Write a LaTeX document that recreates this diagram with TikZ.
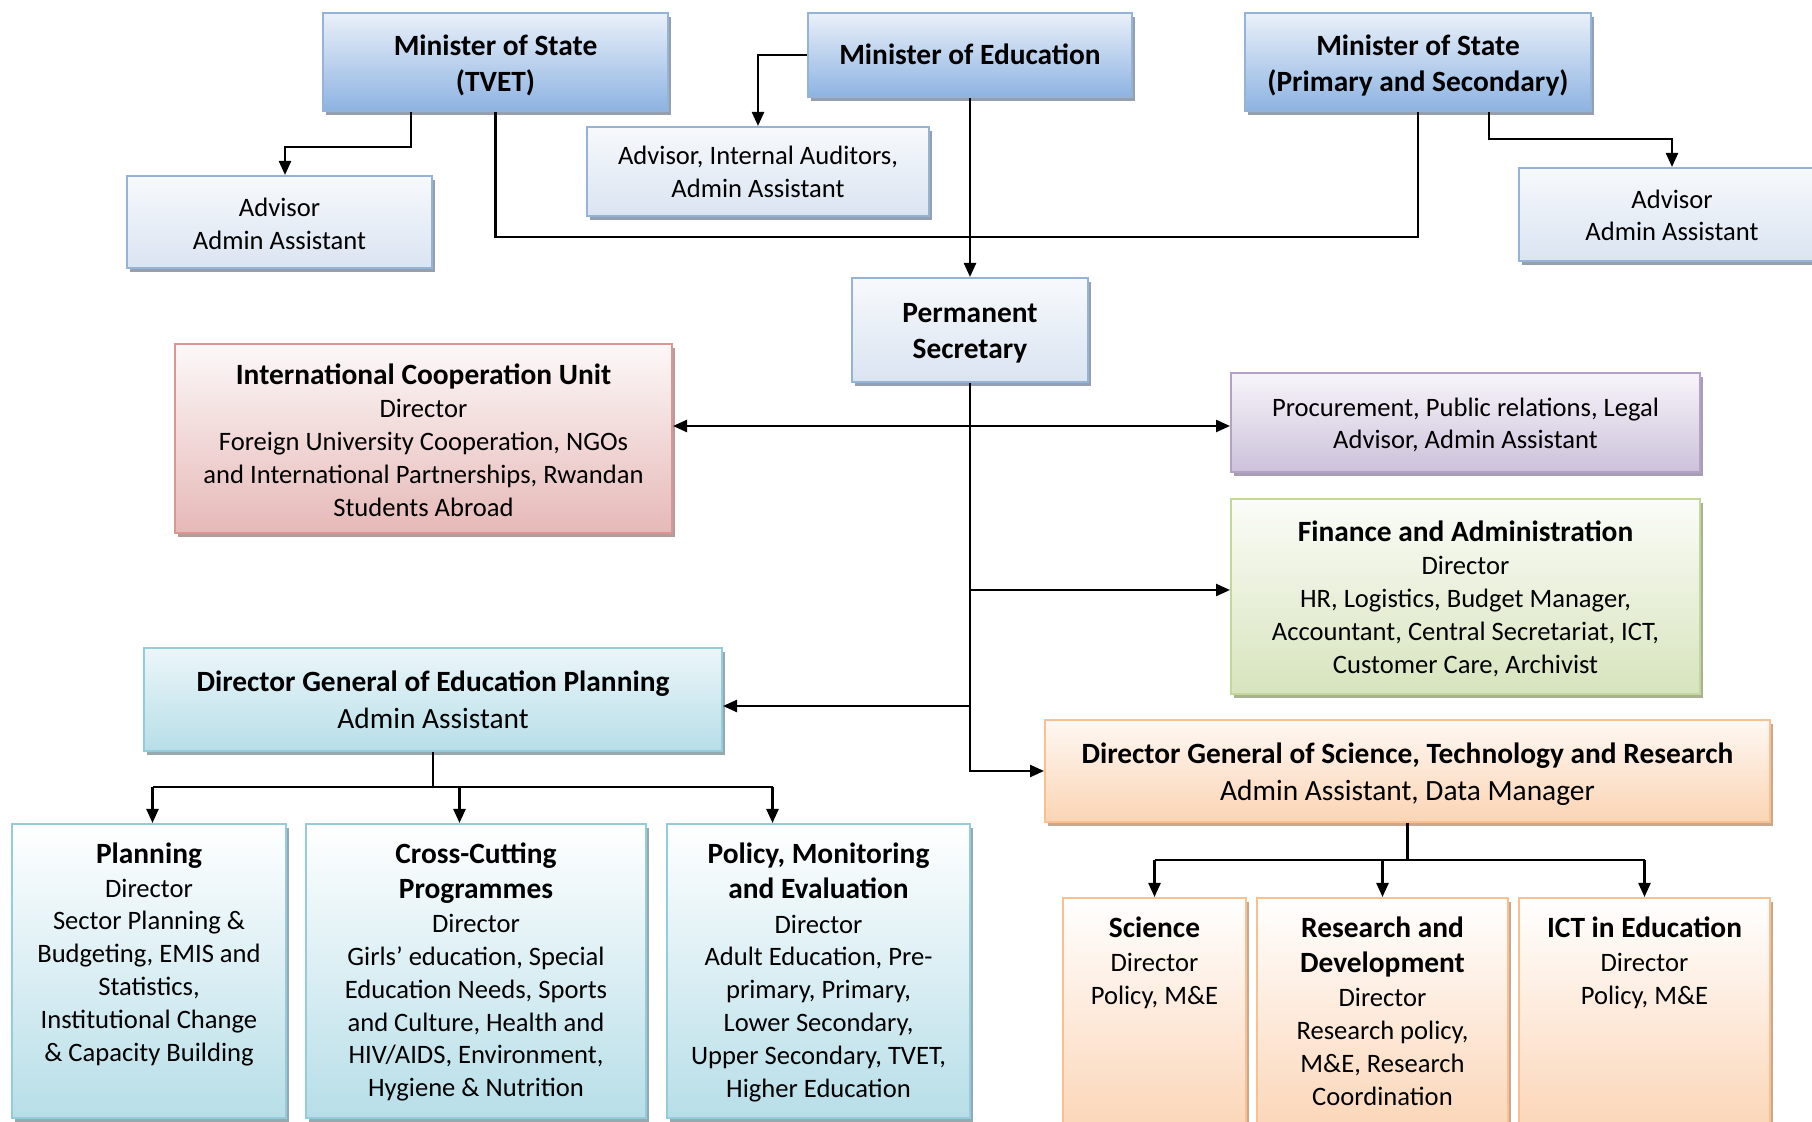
\documentclass[tikz,border=0pt]{standalone}
\usepackage{fontspec}
\setmainfont{Carlito}
\usetikzlibrary{arrows.meta,shadows}
\definecolor{blueTop}{HTML}{EAF0F9}
\definecolor{blueBot}{HTML}{8DB3E2}
\definecolor{blueLn}{HTML}{95B3D7}
\definecolor{blueSh}{HTML}{949FAF}
\definecolor{lbTop}{HTML}{F7F9FC}
\definecolor{lbBot}{HTML}{DAE4F1}
\definecolor{redTop}{HTML}{FCF8F8}
\definecolor{redBot}{HTML}{E6B9B8}
\definecolor{redLn}{HTML}{D99694}
\definecolor{redSh}{HTML}{B59C9C}
\definecolor{purTop}{HTML}{F7F5FA}
\definecolor{purBot}{HTML}{CCC1DA}
\definecolor{purLn}{HTML}{B3A2C7}
\definecolor{purSh}{HTML}{A89EB3}
\definecolor{grnTop}{HTML}{FBFCF8}
\definecolor{grnBot}{HTML}{D7E4BD}
\definecolor{grnLn}{HTML}{C3D69B}
\definecolor{grnSh}{HTML}{A8B293}
\definecolor{tlTop}{HTML}{ECF6F9}
\definecolor{tlBot}{HTML}{B7DEE8}
\definecolor{tlLn}{HTML}{93CDDD}
\definecolor{tlSh}{HTML}{95A9AF}
\definecolor{orTop}{HTML}{FEF8F3}
\definecolor{orBot}{HTML}{FBD4B4}
\definecolor{orLn}{HTML}{FAC090}
\definecolor{orSh}{HTML}{C9A88F}
\newcommand\ttl[1]{{\fontsize{14.7}{16.4}\selectfont\bfseries #1}}
\newcommand\dgt[1]{{\fontsize{14.7}{18.5}\selectfont\bfseries #1}}
% box with text centred: name, box style, x1, y1, x2, y2, downward text shift (pt), text style, text
\newcommand\bx[9]{%
  \node[#2, minimum width={(#5-#3)*0.5pt}, minimum height={(#6-#4)*0.5pt}] (#1) at ({(#3+#5)/2},{(#4+#6)/2}) {};
  \node[#8] (#1t) at ([yshift=-#7pt]#1.center) {#9};}
% box without text
\newcommand\bxe[6]{%
  \node[#2, minimum width={(#5-#3)*0.5pt}, minimum height={(#6-#4)*0.5pt}] (#1) at ({(#3+#5)/2},{(#4+#6)/2}) {};}
\tikzset{
  box/.style={draw, line width=1pt, inner sep=0pt},
  shd/.style={drop shadow={shadow xshift=1.3pt, shadow yshift=-2.2pt, fill=#1, opacity=1}},
  minbox/.style={box, draw=blueLn, top color=blueTop, bottom color=blueBot, shd=blueSh},
  advbox/.style={box, draw=blueLn, top color=lbTop, bottom color=lbBot, shd=blueSh},
  redbox/.style={box, draw=redLn, top color=redTop, bottom color=redBot, shd=redSh},
  purbox/.style={box, draw=purLn, top color=purTop, bottom color=purBot, shd=purSh},
  grnbox/.style={box, draw=grnLn, top color=grnTop, bottom color=grnBot, shd=grnSh},
  tldg/.style={box, draw=tlLn, top color=tlTop, bottom color=tlBot, shd=tlSh},
  tlch/.style={box, draw=tlLn, top color=white, bottom color=tlBot, shd=tlSh},
  ordg/.style={box, draw=orLn, top color=orTop, bottom color=orBot, shd=orSh},
  orch/.style={box, draw=orLn, top color=white, bottom color=orBot, shd=orSh},
  tx/.style={align=center, inner sep=0pt, font=\fontsize{13.3}{16.4}\selectfont},
  txm/.style={align=center, inner sep=0pt, font=\fontsize{14.7}{17.9}\selectfont\bfseries},
  txdg/.style={align=center, inner sep=0pt, font=\fontsize{14.7}{18.5}\selectfont},
  intext/.style={tx, anchor=north},
  ln/.style={line width=1.2pt},
  arr/.style={line width=1.2pt, -{Triangle[length=7pt,width=6pt]}},
}
\begin{document}
\begin{tikzpicture}[x=0.5pt,y=-0.5pt]
\clip (0,0) rectangle (1812,1122);
\fill[white] (0,0) rectangle (1812,1122);
% top level
\bx{tvet}{minbox}{323}{13}{668}{111}{1.6}{txm}{Minister of State\\(TVET)}
\bx{moe}{minbox}{808}{13}{1132}{97}{-0.3}{txm}{Minister of Education}
\bx{mps}{minbox}{1245}{13}{1591}{111}{1.6}{txm}{Minister of State\\(Primary and Secondary)}
\bx{adv1}{advbox}{127}{176}{432}{268}{0.9}{tx}{Advisor\\Admin Assistant}
\bx{advia}{advbox}{587}{127}{929}{216}{0.3}{tx}{Advisor, Internal Auditors,\\Admin Assistant}
\bx{adv3}{advbox}{1519}{168}{1825}{261}{0.4}{tx}{Advisor\\Admin Assistant}
\bx{ps}{advbox}{852}{278}{1088}{382}{1.6}{txm}{Permanent\\Secretary}
% units
\bx{icu}{redbox}{175}{344}{672}{533}{0.7}{tx}{\ttl{International Cooperation Unit}\\[0.5pt]Director\\Foreign University Cooperation, NGOs\\and International Partnerships, Rwandan\\Students Abroad}
\bx{proc}{purbox}{1231}{373}{1700}{472}{1.2}{tx}{Procurement, Public relations, Legal\\Advisor, Admin Assistant}
\bx{fin}{grnbox}{1231}{499}{1700}{694}{1.0}{tx}{\ttl{Finance and Administration}\\[0.5pt]Director\\HR, Logistics, Budget Manager,\\Accountant, Central Secretariat, ICT,\\Customer Care, Archivist}
\bx{dgp}{tldg}{144}{648}{722}{751}{0}{txdg}{\dgt{Director General of Education Planning}\\Admin Assistant}
\bx{dgs}{ordg}{1045}{720}{1770}{822}{1.6}{txdg}{\dgt{Director General of Science, Technology and Research}\\Admin Assistant, Data Manager}
% children boxes
\bxe{pl}{tlch}{12}{824}{286}{1118}
\bxe{cc}{tlch}{306}{824}{646}{1118}
\bxe{pme}{tlch}{667}{824}{970}{1118}
\bxe{sci}{orch}{1063}{898}{1246}{1140}
\bxe{rd}{orch}{1257}{898}{1508}{1140}
\bxe{ict}{orch}{1519}{898}{1770}{1140}
\node[intext] (plt) at ([yshift=-9pt]pl.north) {\rule{0pt}{11pt}\ttl{Planning}\\[0.4pt]Director\\Sector Planning \&\\Budgeting, EMIS and\\Statistics,\\Institutional Change\\\& Capacity Building};
\node[intext] (cct) at ([yshift=-9pt]cc.north) {\rule{0pt}{11pt}\ttl{Cross-Cutting}\\[0.9pt]\ttl{Programmes}\\[0.9pt]Director\\Girls’ education, Special\\Education Needs, Sports\\and Culture, Health and\\HIV/AIDS, Environment,\\Hygiene \& Nutrition};
\node[intext] (pmet) at ([yshift=-9pt]pme.north) {\rule{0pt}{11pt}\ttl{Policy, Monitoring}\\[1pt]\ttl{and Evaluation}\\[1pt]Director\\Adult Education, Pre-\\primary, Primary,\\Lower Secondary,\\Upper Secondary, TVET,\\Higher Education};
\node[intext] (scit) at ([yshift=-9pt]sci.north) {\rule{0pt}{11pt}\ttl{Science}\\[0.7pt]Director\\Policy, M\&E};
\node[intext] (rdt) at ([yshift=-9pt]rd.north) {\rule{0pt}{11pt}\ttl{Research and}\\[1pt]\ttl{Development}\\[0.9pt]Director\\Research policy,\\M\&E, Research\\Coordination};
\node[intext] (ictt) at ([yshift=-9pt]ict.north) {\rule{0pt}{11pt}\ttl{ICT in Education}\\[0.7pt]Director\\Policy, M\&E};
% connectors top
\draw[arr] (moe.west) -| (advia.north);
\draw[arr] (moe.south) -- (ps.north);
\coordinate (j) at (969.5,237);
\draw[ln] (tvet.south) |- (j);
\draw[ln] (mps.south) |- (j);
\coordinate (tA1) at (411,147);
\coordinate (tA2) at (285,147);
\draw[arr] (tvet.south -| tA1) -- (tA1) -- (tA2) -- (adv1.north -| tA2);
\coordinate (pA) at (1489,139);
\draw[arr] (mps.south -| pA) -- (pA) -| (adv3.north);
% trunk from permanent secretary
\draw[arr] (ps.south) |- (dgs.west);
\coordinate (b1) at (969.5,426);
\coordinate (b2) at (969.5,590);
\coordinate (b3) at (969.5,706);
\draw[arr] (b1) -- (b1 -| icu.east);
\draw[arr] (b1) -- (b1 -| proc.west);
\draw[arr] (b2) -- (b2 -| fin.west);
\draw[arr] (b3) -- (b3 -| dgp.east);
% planning branch
\coordinate (c0) at (433,787);
\coordinate (c1) at (152.5,787);
\coordinate (c2) at (459.5,787);
\coordinate (c3) at (772.5,787);
\draw[ln] (dgp.south) -- (c0);
\draw[ln] (c1) -- (c3);
\draw[arr] (c1) -- (c1 |- pl.north);
\draw[arr] (c2) -- (c2 |- cc.north);
\draw[arr] (c3) -- (c3 |- pme.north);
% science branch
\coordinate (d0) at (1407.5,860);
\draw[ln] (dgs.south) -- (d0);
\draw[ln] (d0 -| sci.north) -- (d0 -| ict.north);
\draw[arr] (d0 -| sci.north) -- (sci.north);
\draw[arr] (d0 -| rd.north) -- (rd.north);
\draw[arr] (d0 -| ict.north) -- (ict.north);
\end{tikzpicture}
\end{document}
